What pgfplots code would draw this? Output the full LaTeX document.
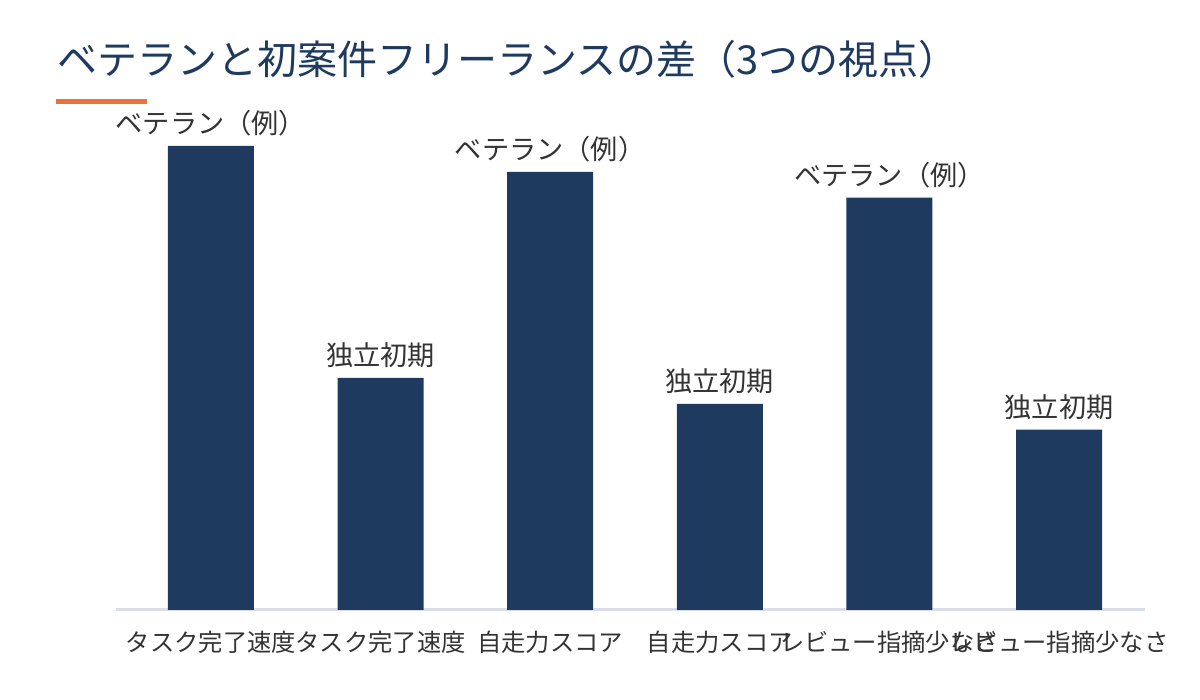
\documentclass[border=0pt]{standalone}
\usepackage{pgfplots}
\pgfplotsset{compat=1.18}
\usepackage{fontspec}
\setmainfont{Noto Sans CJK JP}
\definecolor{navy}{HTML}{1F3A5F}
\definecolor{txtgray}{HTML}{333333}
\definecolor{axisgray}{HTML}{D9DEE8}
\definecolor{accent}{HTML}{E8743B}
\begin{document}
\begin{tikzpicture}
\path[use as bounding box] (0,0) rectangle (600pt,350pt);
\node[anchor=base west, inner sep=0pt, text=navy, font=\fontsize{20pt}{24pt}\selectfont] at (28.5pt,312.5pt) {ベテランと初案件フリーランスの差（3つの視点）};
\fill[accent] (28pt,298pt) rectangle (73.5pt,300.5pt);
\begin{axis}[
  at={(58pt,45pt)}, anchor=south west,
  scale only axis, width=514.5pt, height=250pt,
  xmin=-0.560, xmax=5.507, ymin=0, ymax=96.98,
  axis x line*=bottom, axis y line=none,
  x axis line style={-, draw=axisgray, line width=1.5pt},
  xtick={0,1,2,3,4,5}, xtick style={draw=none},
  xticklabels={タスク完了速度,タスク完了速度,自走力スコア,自走力スコア,レビュー指摘少なさ,レビュー指摘少なさ},
  xticklabel style={anchor=base, yshift=-16.5pt, text=txtgray, font=\fontsize{12.15pt}{14pt}\selectfont},
  ytick=\empty,
  clip=false,
  ybar, bar width=43pt, bar shift=0pt,
  nodes near coords,
  point meta=explicit symbolic,
  every node near coord/.append style={anchor=base, yshift=6pt, text=txtgray, font=\fontsize{13.6pt}{16pt}\selectfont},
]
\addplot[fill=navy, draw=none] table[x=x, y=y, meta=label] {
x y label
0 90 ベテラン（例）
1 45 独立初期
2 85 ベテラン（例）
3 40 独立初期
4 80 ベテラン（例）
5 35 独立初期
};
\end{axis}
\end{tikzpicture}
\end{document}
